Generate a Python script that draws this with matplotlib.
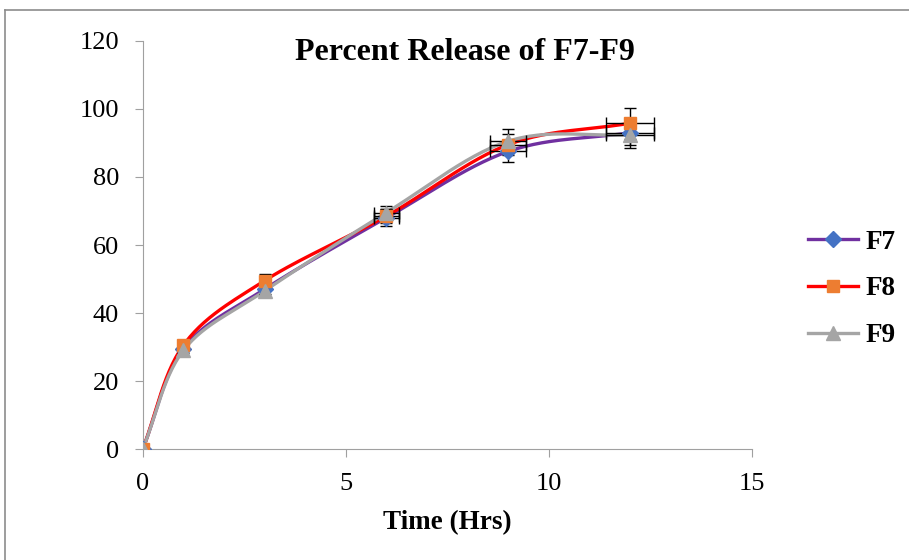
import numpy as np
import matplotlib.pyplot as plt
from matplotlib.lines import Line2D

# release data
time_hrs = [0, 1, 3, 6, 9, 12]
f7 = [0, 29.5, 47.0, 68.0, 87.5, 93.0]
f8 = [0, 30.5, 49.5, 68.5, 89.5, 95.8]
f9 = [0, 29.0, 46.5, 69.5, 90.5, 92.4]
f7_err = [0, 0.8, 1.5, 2.5, 3.0, 3.5]
f8_err = [0, 0.8, 2.0, 2.0, 3.0, 4.5]
f9_err = [0, 0.8, 1.5, 2.0, 3.5, 4.0]
x_err = [0, 0, 0, 0.3, 0.45, 0.6]

series = ['F7', 'F8', 'F9']
line_colors = ['#7030A0', '#FF0000', '#A5A5A5']
marker_colors = ['#4472C4', '#ED7D31', '#A5A5A5']
markers = ['D', 's', '^']
msizes = [8, 9, 10]


def smooth(x, y, n=30):
    # excel-like smoothed line (catmull-rom through the points)
    x = np.asarray(x, float)
    y = np.asarray(y, float)
    px = np.concatenate([[2 * x[0] - x[1]], x, [2 * x[-1] - x[-2]]])
    py = np.concatenate([[2 * y[0] - y[1]], y, [2 * y[-1] - y[-2]]])
    xs, ys = [], []
    t = np.linspace(0, 1, n)
    for i in range(1, len(px) - 2):
        for p, out in ((px, xs), (py, ys)):
            p0, p1, p2, p3 = p[i - 1], p[i], p[i + 1], p[i + 2]
            out.extend(0.5 * ((2 * p1) + (-p0 + p2) * t
                              + (2 * p0 - 5 * p1 + 4 * p2 - p3) * t ** 2
                              + (-p0 + 3 * p1 - 3 * p2 + p3) * t ** 3))
    return xs, ys


plt.rcParams['font.family'] = ['Liberation Serif', 'DejaVu Serif']

fig = plt.figure(figsize=(9.09, 5.6), dpi=100)
ax = fig.add_axes([0.157, 0.198, 0.67, 0.729])

data = [f7, f8, f9]
errs = [f7_err, f8_err, f9_err]
for i in range(3):
    sx, sy = smooth(time_hrs, data[i])
    ax.plot(sx, sy, color=line_colors[i], lw=2.4, zorder=2 + i)
    ax.errorbar(time_hrs, data[i], yerr=errs[i], xerr=x_err, fmt='none',
                ecolor='black', elinewidth=1, capsize=4, zorder=5)
    ax.plot(time_hrs, data[i], ls='none', marker=markers[i], ms=msizes[i],
            mfc=marker_colors[i], mec=marker_colors[i], zorder=6 + i)

ax.set_xlim(0, 15)
ax.set_ylim(0, 120)
ax.set_xticks([0, 5, 10, 15])
ax.set_yticks(range(0, 121, 20))
for s in ['top', 'right']:
    ax.spines[s].set_visible(False)
for s in ['left', 'bottom']:
    ax.spines[s].set_color('#A0A0A0')
ax.tick_params(axis='both', colors='#A0A0A0', labelcolor='black',
               labelsize=19, length=6)
ax.tick_params(axis='x', pad=11)
ax.tick_params(axis='y', pad=11)
ax.set_xlabel('Time (Hrs)', fontsize=19.5, fontweight='bold', labelpad=11)
fig.text(0.5116, 0.906, 'Percent Release of F7-F9', ha='center', va='center',
         fontsize=23, fontweight='bold')

handles = [Line2D([0], [0], color=line_colors[i], lw=2.4, marker=markers[i],
                  ms=msizes[i], mfc=marker_colors[i], mec=marker_colors[i])
           for i in range(3)]
leg = fig.legend(handles, series, loc='center left',
                 bbox_to_anchor=(0.877, 0.484), frameon=False,
                 borderaxespad=0,
                 prop={'size': 19.5, 'weight': 'bold'}, handlelength=1.85,
                 labelspacing=0.8, handletextpad=0.26)

# outer chart border (only top and left visible in the crop)
fig.add_artist(Line2D([0.0055, 1.0], [0.982, 0.982], color='#8C8C8C', lw=1.2,
                      transform=fig.transFigure))
fig.add_artist(Line2D([0.0055, 0.0055], [0.0, 0.982], color='#8C8C8C', lw=1.2,
                      transform=fig.transFigure))

fig.savefig('out.png', dpi=100)
